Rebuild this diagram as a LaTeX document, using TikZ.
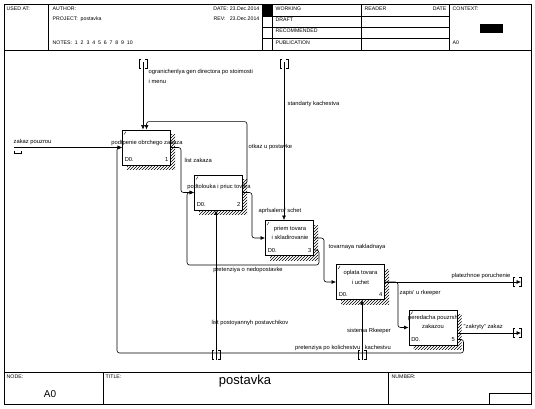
\documentclass[tikz,border=0pt]{standalone}
\usepackage{fontspec}
\setmainfont{Liberation Sans}
\usetikzlibrary{arrows.meta,patterns,shadows}

\begin{document}
\begin{tikzpicture}[x=1pt, y=-1pt,
    every node/.style={inner sep=0.5pt, font=\fontsize{5.8}{9.5}\selectfont},
    func/.style={draw, fill=white, line width=0.9pt, minimum width=48pt, minimum height=35pt,
        general shadow={pattern=north east lines, shadow xshift=4.5pt, shadow yshift=-4.5pt}},
    arr/.style={-{Latex[length=4.5pt,width=4pt]}, line width=0.6pt, rounded corners=2.5pt},
    hd/.style={anchor=north west, font=\fontsize{5.2}{6}\selectfont},
    pics/tunnel/.style={code={
        \draw[line width=0.6pt] (-2,-4.5) -- (-4,-4.5) -- (-4,4.5) -- (-2,4.5)
            (2,-4.5) -- (4,-4.5) -- (4,4.5) -- (2,4.5);}}]

    % Form frame
    \useasboundingbox (0,0) rectangle (535,408);
    \draw[line width=0.6pt] (4,4) rectangle (531,404);
    \draw[line width=0.6pt] (4,50) -- (531,50) (4,372) -- (531,372);
    \draw (48,4) -- (48,50) (262,4) -- (262,50) (272,4) -- (272,50)
          (361,4) -- (361,50) (449,4) -- (449,50);
    \draw (262,16) -- (449,16) (262,27) -- (449,27) (262,38) -- (449,38);
    \fill (262,4) rectangle (272,16);
    \fill (480,24) rectangle (503,33);
    \draw (103,372) -- (103,404) (388,372) -- (388,404);
    \draw (489,393) rectangle (531,404);

    % Header and footer texts
    \node[hd] (usedat) at (6,6) {USED AT:};
    \node[hd] (author) at (52,6) {AUTHOR:};
    \node[hd] (project) at (52,16.5) {PROJECT:\ \ postavka};
    \node[hd] (notes) at (52,40) {NOTES:\ \ 1\ \ 2\ \ 3\ \ 4\ \ 5\ \ 6\ \ 7\ \ 8\ \ 9\ \ 10};
    \node[hd, anchor=north east] (date) at (260,6) {DATE: 23.Dec.2014};
    \node[hd, anchor=north east] (rev) at (260,16.5) {REV:\ \ \ 23.Dec.2014};
    \node[hd] (working) at (275,6) {WORKING};
    \node[hd] (draft) at (275,17.5) {DRAFT};
    \node[hd] (recomm) at (275,28.5) {RECOMMENDED};
    \node[hd] (publ) at (275,40) {PUBLICATION};
    \node[hd] (reader) at (364,6) {READER};
    \node[hd, anchor=north east] (rdate) at (447,6) {DATE};
    \node[hd] (context) at (452,6) {CONTEXT:};
    \node[hd] (ctxnode) at (452,40) {A0};
    \node[hd] (nodelbl) at (6,374) {NODE:};
    \node[hd] (titlelbl) at (105,374) {TITLE:};
    \node[hd] (numberlbl) at (391,374) {NUMBER:};
    \node[font=\fontsize{10}{12}\selectfont] (nodeid) at (50,394) {A0};
    \node[font=\fontsize{13}{15}\selectfont] (title) at (245,381) {postavka};

    % Define the function boxes
    \node[func] (A1) at (146.5,147.5) {};
    \node[func] (A2) at (218.5,192.5) {};
    \node[func] (A3) at (289.5,238) {};
    \node[func] (A4) at (360.5,282) {};
    \node[func] (A5) at (433,327.5) {};
    \foreach \b in {A1,A2,A3,A4,A5}
        \draw ([shift={(2pt,-5pt)}]\b.north west) -- ++(2pt,3pt);

    \node (T1) at (147,143) {podtpenie obrchego zakaza};
    \node (T2) at (219,187) {podtolouka i priuc tovara};
    \node[align=center] (T3) at (290,233) {priem tovara\\i skladirovanie};
    \node[align=center] (T4) at (360.5,277.5) {oplata tovara\\i uchet};
    \node[align=center] (T5) at (433,322) {peredacha pouzrsh\\zakazou};

    \node[anchor=south west] (D1) at ([shift={(2pt,3pt)}]A1.south west) {D0.};
    \node[anchor=south east] (N1) at ([shift={(-2pt,3pt)}]A1.south east) {1};
    \node[anchor=south west] (D2) at ([shift={(2pt,3pt)}]A2.south west) {D0.};
    \node[anchor=south east] (N2) at ([shift={(-2pt,3pt)}]A2.south east) {2};
    \node[anchor=south west] (D3) at ([shift={(2pt,3pt)}]A3.south west) {D0.};
    \node[anchor=south east] (N3) at ([shift={(-2pt,3pt)}]A3.south east) {3};
    \node[anchor=south west] (D4) at ([shift={(2pt,3pt)}]A4.south west) {D0.};
    \node[anchor=south east] (N4) at ([shift={(-2pt,3pt)}]A4.south east) {4};
    \node[anchor=south west] (D5) at ([shift={(2pt,3pt)}]A5.south west) {D0.};
    \node[anchor=south east] (N5) at ([shift={(-2pt,3pt)}]A5.south east) {5};

    % Boundary points
    \coordinate (in1) at (14,147.5);
    \coordinate (c1) at (143,62);
    \coordinate (c2) at (284,62);
    \coordinate (m1) at (216,360);
    \coordinate (m2) at (362,360);
    \coordinate (o1) at (521,282);
    \coordinate (o2) at (521,333);

    % Arrows
    \draw[arr] (in1) -- (A1.west);
    \draw (14,151) -- (14,153) -- (21,153) -- (21,151);
    \draw[arr] (c1) -- (c1 |- A1.north);
    \draw[arr] ([yshift=8.5pt]A2.east) -- ++(4,0) |- ([yshift=8pt]A1.north) -- (A1.north);
    \draw[arr] (A1.east) -- ++(10,0) |- (A2.west);
    \draw[arr] ([yshift=-12pt]A3.east) -- ++(5,0) |- (187,265) |- (A2.west);
    \draw[arr] (A2.east) -- ++(9,0) |- (A3.west);
    \draw[arr] (c2) -- (c2 |- A3.north);
    \draw[arr] (A3.east) -- ++(10,0) |- (A4.west);
    \draw[arr] (A4.east) -- (o1);
    \draw[arr] (A4.east) -- ++(13,0) |- (A5.west);
    \draw[arr] ([yshift=-5.5pt]A5.east) -- (o2);
    \draw[arr] ([yshift=-12pt]A5.east) -- ++(6,0) |- (117,353) |- (A1.west);
    \draw[arr] (m1) -- (m1 |- A2.south);
    \draw[arr] (m2) -- (m2 |- A4.south);

    % Tunnels
    \pic at (143,64) {tunnel};
    \pic at (284,64) {tunnel};
    \pic at (517,282) {tunnel};
    \pic at (517,333) {tunnel};
    \pic at (216,355) {tunnel};
    \pic at (362,355) {tunnel};

    % Arrow labels
    \node[anchor=south west] (L1) at (13,145.5) {zakaz pouzrou};
    \node[anchor=north west, align=left] (L2) at (148,69) {ogranichenlya gen directora po stoimosti\\i menu};
    \node[anchor=west] (L3) at (248,147) {otkaz u postavke};
    \node[anchor=west] (L4) at (184,160) {list zakaza};
    \node[anchor=west] (L5) at (258,211) {aprlsalerof schet};
    \node (L6) at (248,270) {pretenziya o nedopostavke};
    \node[anchor=west] (L7) at (287,104) {standarty kachestva};
    \node[anchor=west] (L8) at (328,247) {tovarnaya nakladnaya};
    \node[anchor=south east] (L9) at (511,279) {platezhnoe poruchenie};
    \node[anchor=west] (L10) at (399,293) {zapis' u rkeeper};
    \node[anchor=south west] (L11) at (463,330) {"zakryty" zakaz};
    \node[anchor=south] (L12) at (343,351) {pretenziya po kolichestvu i kachestvu};
    \node (L13) at (250,323) {list postoyannyh postavchikov};
    \node (L14) at (369,331) {sistema Rkeeper};
\end{tikzpicture}
\end{document}
